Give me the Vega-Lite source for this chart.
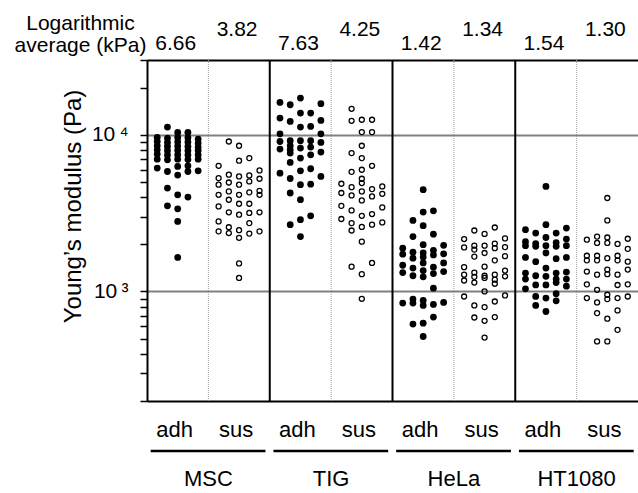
{
  "$schema": "https://vega.github.io/schema/vega-lite/v6.json",
  "width": 491,
  "height": 341,
  "autosize": {"type": "none"},
  "padding": {"left": 147, "top": 60, "right": 0, "bottom": 92},
  "background": "white",
  "config": {
    "font": "Liberation Sans",
    "view": {"stroke": null},
    "text": {"font": "Liberation Sans"}
  },
  "datasets": {
    "adh": [
      {"g":"MSC adh","l":-2,"E":9610},{"g":"MSC adh","l":-2,"E":9060},{"g":"MSC adh","l":-2,"E":8510},{"g":"MSC adh","l":-2,"E":8020},{"g":"MSC adh","l":-2,"E":7530},{"g":"MSC adh","l":-2,"E":6990},{"g":"MSC adh","l":-2,"E":6130},
      {"g":"MSC adh","l":-1,"E":11200},{"g":"MSC adh","l":-1,"E":9530},{"g":"MSC adh","l":-1,"E":8930},{"g":"MSC adh","l":-1,"E":8420},{"g":"MSC adh","l":-1,"E":7910},{"g":"MSC adh","l":-1,"E":7420},{"g":"MSC adh","l":-1,"E":6920},{"g":"MSC adh","l":-1,"E":5830},{"g":"MSC adh","l":-1,"E":4570},{"g":"MSC adh","l":-1,"E":3520},
      {"g":"MSC adh","l":0,"E":10350},{"g":"MSC adh","l":0,"E":9610},{"g":"MSC adh","l":0,"E":9020},{"g":"MSC adh","l":0,"E":8470},{"g":"MSC adh","l":0,"E":7940},{"g":"MSC adh","l":0,"E":7450},{"g":"MSC adh","l":0,"E":6990},{"g":"MSC adh","l":0,"E":6280},{"g":"MSC adh","l":0,"E":5530},{"g":"MSC adh","l":0,"E":4140},{"g":"MSC adh","l":0,"E":3370},{"g":"MSC adh","l":0,"E":2800},{"g":"MSC adh","l":0,"E":1650},
      {"g":"MSC adh","l":1,"E":10350},{"g":"MSC adh","l":1,"E":9570},{"g":"MSC adh","l":1,"E":8980},{"g":"MSC adh","l":1,"E":8420},{"g":"MSC adh","l":1,"E":7910},{"g":"MSC adh","l":1,"E":7420},{"g":"MSC adh","l":1,"E":6950},{"g":"MSC adh","l":1,"E":6340},{"g":"MSC adh","l":1,"E":5830},{"g":"MSC adh","l":1,"E":4000},
      {"g":"MSC adh","l":2,"E":9390},{"g":"MSC adh","l":2,"E":8850},{"g":"MSC adh","l":2,"E":8350},{"g":"MSC adh","l":2,"E":7940},{"g":"MSC adh","l":2,"E":7450},{"g":"MSC adh","l":2,"E":6990},{"g":"MSC adh","l":2,"E":5890},
      {"g":"TIG adh","l":0,"E":17150},{"g":"TIG adh","l":-2,"E":16070},{"g":"TIG adh","l":-1,"E":15540},{"g":"TIG adh","l":2,"E":15780},{"g":"TIG adh","l":0,"E":13760},{"g":"TIG adh","l":1,"E":13760},{"g":"TIG adh","l":-2,"E":12790},{"g":"TIG adh","l":-1,"E":12160},{"g":"TIG adh","l":2,"E":12340},{"g":"TIG adh","l":0,"E":11200},{"g":"TIG adh","l":1,"E":11300},{"g":"TIG adh","l":-2,"E":10140},{"g":"TIG adh","l":2,"E":10140},{"g":"TIG adh","l":-2,"E":9060},{"g":"TIG adh","l":-1,"E":9160},{"g":"TIG adh","l":0,"E":9160},{"g":"TIG adh","l":1,"E":9160},{"g":"TIG adh","l":2,"E":8930},{"g":"TIG adh","l":-2,"E":8110},{"g":"TIG adh","l":-1,"E":8510},{"g":"TIG adh","l":-1,"E":8020},{"g":"TIG adh","l":-1,"E":7640},{"g":"TIG adh","l":0,"E":8220},{"g":"TIG adh","l":1,"E":8340},{"g":"TIG adh","l":2,"E":7750},{"g":"TIG adh","l":1,"E":7450},{"g":"TIG adh","l":0,"E":7100},{"g":"TIG adh","l":-1,"E":6660},{"g":"TIG adh","l":1,"E":6070},{"g":"TIG adh","l":0,"E":5890},{"g":"TIG adh","l":-2,"E":5690},{"g":"TIG adh","l":2,"E":5420},{"g":"TIG adh","l":-1,"E":5260},{"g":"TIG adh","l":0,"E":4800},{"g":"TIG adh","l":1,"E":4840},{"g":"TIG adh","l":-1,"E":4250},{"g":"TIG adh","l":0,"E":3850},{"g":"TIG adh","l":1,"E":3040},{"g":"TIG adh","l":0,"E":2870},{"g":"TIG adh","l":-1,"E":2670},{"g":"TIG adh","l":0,"E":2240},
      {"g":"HeLa adh","l":0,"E":4460},{"g":"HeLa adh","l":0,"E":3210},{"g":"HeLa adh","l":1,"E":3270},{"g":"HeLa adh","l":-1,"E":2840},{"g":"HeLa adh","l":0,"E":2630},{"g":"HeLa adh","l":-1,"E":2240},{"g":"HeLa adh","l":1,"E":2320},{"g":"HeLa adh","l":0,"E":1990},{"g":"HeLa adh","l":-2,"E":1890},{"g":"HeLa adh","l":-2,"E":1730},{"g":"HeLa adh","l":-1,"E":1780},{"g":"HeLa adh","l":-1,"E":1630},{"g":"HeLa adh","l":0,"E":1760},{"g":"HeLa adh","l":0,"E":1660},{"g":"HeLa adh","l":1,"E":1830},{"g":"HeLa adh","l":1,"E":1710},{"g":"HeLa adh","l":2,"E":1970},{"g":"HeLa adh","l":2,"E":1740},{"g":"HeLa adh","l":-2,"E":1470},{"g":"HeLa adh","l":-2,"E":1320},{"g":"HeLa adh","l":-1,"E":1410},{"g":"HeLa adh","l":-1,"E":1260},{"g":"HeLa adh","l":0,"E":1520},{"g":"HeLa adh","l":0,"E":1360},{"g":"HeLa adh","l":0,"E":1240},{"g":"HeLa adh","l":1,"E":1430},{"g":"HeLa adh","l":1,"E":1300},{"g":"HeLa adh","l":2,"E":1520},{"g":"HeLa adh","l":2,"E":1340},{"g":"HeLa adh","l":1,"E":1050},{"g":"HeLa adh","l":-2,"E":843},{"g":"HeLa adh","l":-1,"E":894},{"g":"HeLa adh","l":-1,"E":843},{"g":"HeLa adh","l":0,"E":876},{"g":"HeLa adh","l":0,"E":814},{"g":"HeLa adh","l":1,"E":826},{"g":"HeLa adh","l":2,"E":851},{"g":"HeLa adh","l":1,"E":686},{"g":"HeLa adh","l":-1,"E":619},{"g":"HeLa adh","l":0,"E":628},{"g":"HeLa adh","l":0,"E":516},
      {"g":"HT1080 adh","l":0,"E":4680},{"g":"HT1080 adh","l":0,"E":2670},{"g":"HT1080 adh","l":-2,"E":2480},{"g":"HT1080 adh","l":-1,"E":2360},{"g":"HT1080 adh","l":1,"E":2360},{"g":"HT1080 adh","l":2,"E":2540},{"g":"HT1080 adh","l":0,"E":2210},{"g":"HT1080 adh","l":2,"E":2160},{"g":"HT1080 adh","l":-2,"E":2080},{"g":"HT1080 adh","l":-2,"E":1960},{"g":"HT1080 adh","l":-1,"E":2020},{"g":"HT1080 adh","l":-1,"E":1940},{"g":"HT1080 adh","l":0,"E":1960},{"g":"HT1080 adh","l":1,"E":2050},{"g":"HT1080 adh","l":1,"E":1940},{"g":"HT1080 adh","l":2,"E":1960},{"g":"HT1080 adh","l":0,"E":1760},{"g":"HT1080 adh","l":-2,"E":1650},{"g":"HT1080 adh","l":-1,"E":1550},{"g":"HT1080 adh","l":1,"E":1620},{"g":"HT1080 adh","l":2,"E":1650},{"g":"HT1080 adh","l":0,"E":1410},{"g":"HT1080 adh","l":-2,"E":1310},{"g":"HT1080 adh","l":-2,"E":1200},{"g":"HT1080 adh","l":-2,"E":1040},{"g":"HT1080 adh","l":-1,"E":1260},{"g":"HT1080 adh","l":-1,"E":1100},{"g":"HT1080 adh","l":0,"E":1250},{"g":"HT1080 adh","l":0,"E":1100},{"g":"HT1080 adh","l":1,"E":1310},{"g":"HT1080 adh","l":1,"E":1200},{"g":"HT1080 adh","l":1,"E":1140},{"g":"HT1080 adh","l":2,"E":1330},{"g":"HT1080 adh","l":2,"E":1200},{"g":"HT1080 adh","l":2,"E":1080},{"g":"HT1080 adh","l":-1,"E":929},{"g":"HT1080 adh","l":0,"E":908},{"g":"HT1080 adh","l":1,"E":967},{"g":"HT1080 adh","l":1,"E":872},{"g":"HT1080 adh","l":-1,"E":814},{"g":"HT1080 adh","l":0,"E":745}
    ],
    "sus": [
      {"g":"MSC sus","l":-1,"E":9060},{"g":"MSC sus","l":0,"E":8510},{"g":"MSC sus","l":0,"E":6830},{"g":"MSC sus","l":1,"E":7100},{"g":"MSC sus","l":-2,"E":6340},{"g":"MSC sus","l":2,"E":5920},{"g":"MSC sus","l":-2,"E":5290},{"g":"MSC sus","l":-1,"E":5560},{"g":"MSC sus","l":0,"E":5420},{"g":"MSC sus","l":1,"E":5500},{"g":"MSC sus","l":2,"E":5240},{"g":"MSC sus","l":-2,"E":4800},{"g":"MSC sus","l":-1,"E":4960},{"g":"MSC sus","l":0,"E":4800},{"g":"MSC sus","l":1,"E":5040},{"g":"MSC sus","l":-2,"E":4140},{"g":"MSC sus","l":-1,"E":4350},{"g":"MSC sus","l":0,"E":4140},{"g":"MSC sus","l":1,"E":4290},{"g":"MSC sus","l":2,"E":4390},{"g":"MSC sus","l":2,"E":4140},{"g":"MSC sus","l":-2,"E":3490},{"g":"MSC sus","l":-1,"E":3850},{"g":"MSC sus","l":0,"E":3630},{"g":"MSC sus","l":1,"E":3630},{"g":"MSC sus","l":-1,"E":3200},{"g":"MSC sus","l":0,"E":3090},{"g":"MSC sus","l":1,"E":3170},{"g":"MSC sus","l":2,"E":3200},{"g":"MSC sus","l":-2,"E":2800},{"g":"MSC sus","l":1,"E":2730},{"g":"MSC sus","l":-2,"E":2420},{"g":"MSC sus","l":-1,"E":2570},{"g":"MSC sus","l":-1,"E":2360},{"g":"MSC sus","l":0,"E":2460},{"g":"MSC sus","l":0,"E":2200},{"g":"MSC sus","l":1,"E":2340},{"g":"MSC sus","l":2,"E":2420},{"g":"MSC sus","l":0,"E":1510},{"g":"MSC sus","l":0,"E":1220},
      {"g":"TIG sus","l":-1,"E":14650},{"g":"TIG sus","l":-1,"E":12280},{"g":"TIG sus","l":0,"E":12470},{"g":"TIG sus","l":1,"E":12470},{"g":"TIG sus","l":0,"E":10400},{"g":"TIG sus","l":1,"E":10400},{"g":"TIG sus","l":0,"E":8510},{"g":"TIG sus","l":-1,"E":7640},{"g":"TIG sus","l":0,"E":7100},{"g":"TIG sus","l":1,"E":6340},{"g":"TIG sus","l":-1,"E":5800},{"g":"TIG sus","l":0,"E":5980},{"g":"TIG sus","l":0,"E":5240},{"g":"TIG sus","l":-2,"E":4870},{"g":"TIG sus","l":-1,"E":4630},{"g":"TIG sus","l":0,"E":4920},{"g":"TIG sus","l":1,"E":4500},{"g":"TIG sus","l":2,"E":4680},{"g":"TIG sus","l":-2,"E":4250},{"g":"TIG sus","l":-1,"E":4100},{"g":"TIG sus","l":0,"E":4350},{"g":"TIG sus","l":1,"E":4040},{"g":"TIG sus","l":2,"E":4200},{"g":"TIG sus","l":0,"E":3810},{"g":"TIG sus","l":-2,"E":3520},{"g":"TIG sus","l":-1,"E":3290},{"g":"TIG sus","l":0,"E":3040},{"g":"TIG sus","l":1,"E":3120},{"g":"TIG sus","l":2,"E":3440},{"g":"TIG sus","l":-2,"E":2900},{"g":"TIG sus","l":-1,"E":2730},{"g":"TIG sus","l":-1,"E":2450},{"g":"TIG sus","l":0,"E":2580},{"g":"TIG sus","l":1,"E":2670},{"g":"TIG sus","l":2,"E":2760},{"g":"TIG sus","l":0,"E":2080},{"g":"TIG sus","l":-1,"E":1440},{"g":"TIG sus","l":1,"E":1520},{"g":"TIG sus","l":0,"E":1290},{"g":"TIG sus","l":0,"E":898},
      {"g":"HeLa sus","l":-1,"E":2450},{"g":"HeLa sus","l":1,"E":2560},{"g":"HeLa sus","l":0,"E":2330},{"g":"HeLa sus","l":-2,"E":2160},{"g":"HeLa sus","l":2,"E":2180},{"g":"HeLa sus","l":-2,"E":1910},{"g":"HeLa sus","l":-1,"E":1960},{"g":"HeLa sus","l":-1,"E":1850},{"g":"HeLa sus","l":0,"E":1960},{"g":"HeLa sus","l":1,"E":2020},{"g":"HeLa sus","l":1,"E":1890},{"g":"HeLa sus","l":2,"E":1920},{"g":"HeLa sus","l":-1,"E":1670},{"g":"HeLa sus","l":0,"E":1760},{"g":"HeLa sus","l":1,"E":1580},{"g":"HeLa sus","l":2,"E":1680},{"g":"HeLa sus","l":-2,"E":1430},{"g":"HeLa sus","l":0,"E":1440},{"g":"HeLa sus","l":2,"E":1360},{"g":"HeLa sus","l":-2,"E":1280},{"g":"HeLa sus","l":-2,"E":1175},{"g":"HeLa sus","l":-1,"E":1320},{"g":"HeLa sus","l":-1,"E":1240},{"g":"HeLa sus","l":-1,"E":1140},{"g":"HeLa sus","l":0,"E":1260},{"g":"HeLa sus","l":0,"E":1220},{"g":"HeLa sus","l":1,"E":1280},{"g":"HeLa sus","l":1,"E":1190},{"g":"HeLa sus","l":1,"E":1120},{"g":"HeLa sus","l":2,"E":1250},{"g":"HeLa sus","l":-2,"E":929},{"g":"HeLa sus","l":0,"E":1000},{"g":"HeLa sus","l":1,"E":863},{"g":"HeLa sus","l":2,"E":943},{"g":"HeLa sus","l":-1,"E":814},{"g":"HeLa sus","l":0,"E":795},{"g":"HeLa sus","l":-1,"E":682},{"g":"HeLa sus","l":0,"E":650},{"g":"HeLa sus","l":1,"E":686},{"g":"HeLa sus","l":0,"E":508},
      {"g":"HT1080 sus","l":0,"E":3950},{"g":"HT1080 sus","l":0,"E":2840},{"g":"HT1080 sus","l":-2,"E":2140},{"g":"HT1080 sus","l":-1,"E":2240},{"g":"HT1080 sus","l":-1,"E":2040},{"g":"HT1080 sus","l":0,"E":2210},{"g":"HT1080 sus","l":0,"E":2040},{"g":"HT1080 sus","l":1,"E":2010},{"g":"HT1080 sus","l":2,"E":2170},{"g":"HT1080 sus","l":2,"E":1870},{"g":"HT1080 sus","l":-2,"E":1690},{"g":"HT1080 sus","l":-2,"E":1580},{"g":"HT1080 sus","l":-1,"E":1690},{"g":"HT1080 sus","l":-1,"E":1580},{"g":"HT1080 sus","l":0,"E":1630},{"g":"HT1080 sus","l":1,"E":1690},{"g":"HT1080 sus","l":1,"E":1580},{"g":"HT1080 sus","l":2,"E":1550},{"g":"HT1080 sus","l":-2,"E":1340},{"g":"HT1080 sus","l":-1,"E":1280},{"g":"HT1080 sus","l":0,"E":1380},{"g":"HT1080 sus","l":0,"E":1290},{"g":"HT1080 sus","l":1,"E":1280},{"g":"HT1080 sus","l":2,"E":1380},{"g":"HT1080 sus","l":-2,"E":1110},{"g":"HT1080 sus","l":-1,"E":1025},{"g":"HT1080 sus","l":1,"E":1100},{"g":"HT1080 sus","l":2,"E":1110},{"g":"HT1080 sus","l":-2,"E":908},{"g":"HT1080 sus","l":-1,"E":851},{"g":"HT1080 sus","l":0,"E":953},{"g":"HT1080 sus","l":0,"E":894},{"g":"HT1080 sus","l":1,"E":908},{"g":"HT1080 sus","l":2,"E":929},{"g":"HT1080 sus","l":-1,"E":728},{"g":"HT1080 sus","l":0,"E":670},{"g":"HT1080 sus","l":1,"E":757},{"g":"HT1080 sus","l":1,"E":569},{"g":"HT1080 sus","l":-1,"E":480},{"g":"HT1080 sus","l":0,"E":480}
    ],
    "avg": [
      {"g":"MSC adh","s":"adh","v":"6.66"},{"g":"MSC sus","s":"sus","v":"3.82"},
      {"g":"TIG adh","s":"adh","v":"7.63"},{"g":"TIG sus","s":"sus","v":"4.25"},
      {"g":"HeLa adh","s":"adh","v":"1.42"},{"g":"HeLa sus","s":"sus","v":"1.34"},
      {"g":"HT1080 adh","s":"adh","v":"1.54"},{"g":"HT1080 sus","s":"sus","v":"1.30"}
    ],
    "seps": [{"g":"TIG adh"},{"g":"HeLa adh"},{"g":"HT1080 adh"}],
    "dots": [{"g":"MSC sus"},{"g":"TIG sus"},{"g":"HeLa sus"},{"g":"HT1080 sus"}],
    "under": [
      {"a":"MSC adh","b":"MSC sus"},{"a":"TIG adh","b":"TIG sus"},
      {"a":"HeLa adh","b":"HeLa sus"},{"a":"HT1080 adh","b":"HT1080 sus"}
    ]
  },
  "resolve": {"axis": {"x": "independent", "y": "independent"}},
  "layer": [
    {
      "data": {"name": "dots"},
      "mark": {"type": "rule", "stroke": "#a0a0a0", "strokeWidth": 1, "strokeDash": [1, 1]},
      "encoding": {
        "x": {"field": "g", "type": "nominal", "bandPosition": 0, "axis": null,
              "scale": {"domain": ["MSC adh","MSC sus","TIG adh","TIG sus","HeLa adh","HeLa sus","HT1080 adh","HT1080 sus"], "paddingInner": 0, "paddingOuter": 0}}
      }
    },
    {
      "data": {"name": "seps"},
      "mark": {"type": "rule", "stroke": "#000", "strokeWidth": 2},
      "encoding": {
        "x": {"field": "g", "type": "nominal", "bandPosition": 0,
              "scale": {"domain": ["MSC adh","MSC sus","TIG adh","TIG sus","HeLa adh","HeLa sus","HT1080 adh","HT1080 sus"], "paddingInner": 0, "paddingOuter": 0},
              "axis": {"orient": "top", "domain": true, "domainColor": "#000", "domainWidth": 2, "ticks": false, "labels": false, "grid": false,
                       "title": ["Logarithmic", "average (kPa)"], "titleFontSize": 21, "titleFontWeight": "normal", "titleColor": "#000",
                       "titleX": -67, "titleY": -30.7, "titleAlign": "center", "titleBaseline": "alphabetic", "titleAngle": 0, "titleLineHeight": 22.4}}
      }
    },
    {
      "data": {"name": "under"},
      "mark": {"type": "rule", "stroke": "#000", "strokeWidth": 2.5},
      "encoding": {
        "x": {"field": "a", "type": "nominal", "bandPosition": 0.06, "axis": null,
              "scale": {"domain": ["MSC adh","MSC sus","TIG adh","TIG sus","HeLa adh","HeLa sus","HT1080 adh","HT1080 sus"], "paddingInner": 0, "paddingOuter": 0}},
        "x2": {"field": "b", "bandPosition": 0.93},
        "y": {"datum": 96, "type": "quantitative", "axis": null, "scale": {"type": "log", "domain": [200, 30000], "nice": false}}
      }
    },
    {
      "data": {"name": "avg"},
      "transform": [{"filter": {"field": "s", "equal": "adh"}}],
      "mark": {"type": "text", "fontSize": 21, "align": "center", "baseline": "alphabetic", "dx": -2, "color": "#000"},
      "encoding": {
        "x": {"field": "g", "type": "nominal", "axis": null,
              "scale": {"domain": ["MSC adh","MSC sus","TIG adh","TIG sus","HeLa adh","HeLa sus","HT1080 adh","HT1080 sus"], "paddingInner": 0, "paddingOuter": 0}},
        "y": {"datum": 34500, "type": "quantitative", "axis": null, "scale": {"type": "log", "domain": [200, 30000], "nice": false}},
        "text": {"field": "v"}
      }
    },
    {
      "data": {"name": "avg"},
      "transform": [{"filter": {"field": "s", "equal": "sus"}}],
      "mark": {"type": "text", "fontSize": 21, "align": "center", "baseline": "alphabetic", "dx": -2, "color": "#000"},
      "encoding": {
        "x": {"field": "g", "type": "nominal", "axis": null,
              "scale": {"domain": ["MSC adh","MSC sus","TIG adh","TIG sus","HeLa adh","HeLa sus","HT1080 adh","HT1080 sus"], "paddingInner": 0, "paddingOuter": 0}},
        "y": {"datum": 42500, "type": "quantitative", "axis": null, "scale": {"type": "log", "domain": [200, 30000], "nice": false}},
        "text": {"field": "v"}
      }
    },
    {
      "data": {"name": "adh"},
      "mark": {"type": "circle", "size": 46, "opacity": 1, "color": "#000"},
      "encoding": {
        "x": {"field": "g", "type": "nominal",
              "scale": {"domain": ["MSC adh","MSC sus","TIG adh","TIG sus","HeLa adh","HeLa sus","HT1080 adh","HT1080 sus"], "paddingInner": 0, "paddingOuter": 0},
              "axis": {"orient": "bottom", "labelExpr": "split(datum.value, ' ')[1]", "labelFontSize": 22, "labelColor": "#000", "labelPadding": 35,
                       "labelBaseline": "alphabetic", "labelAngle": 0, "labelOffset": -3, "labelOverlap": false, "ticks": false, "tickSize": 0,
                       "domain": true, "domainColor": "#000", "domainWidth": 2, "grid": false, "title": null}},
        "xOffset": {"field": "l", "type": "ordinal", "scale": {"type": "point", "domain": [-2, -1, 0, 1, 2], "padding": 1.16}},
        "y": {"field": "E", "type": "quantitative",
              "scale": {"type": "log", "domain": [200, 30000], "nice": false},
              "axis": {"orient": "left",
                       "values": [200,300,400,500,600,700,800,900,1000,2000,3000,4000,5000,6000,7000,8000,9000,10000,20000,30000],
                       "labelExpr": "datum.value == 10000 ? '10\u2009⁴' : (datum.value == 1000 ? '10\u2009³' : '')",
                       "labelFontSize": 21, "labelColor": "#000", "labelPadding": 12, "labelBaseline": "middle", "labelOverlap": false, "labelFlush": false, "labelBound": false,
                       "tickSize": 7, "tickColor": "#000", "tickWidth": 1.5,
                       "domain": true, "domainColor": "#000", "domainWidth": 2,
                       "grid": true, "gridColor": "#808080", "gridWidth": 2,
                       "gridOpacity": {"condition": {"test": "datum.value == 1000 || datum.value == 10000", "value": 1}, "value": 0},
                       "title": "Young’s modulus (Pa)", "titleFontSize": 24, "titleFontWeight": "normal", "titleColor": "#000",
                       "titleX": -67, "titleY": 146, "titleAngle": -90, "titleAlign": "center", "titleBaseline": "alphabetic"}}
      }
    },
    {
      "data": {"name": "sus"},
      "mark": {"type": "circle", "filled": false, "size": 25, "strokeWidth": 1.3, "opacity": 1, "color": "#000"},
      "encoding": {
        "x": {"field": "g", "type": "nominal",
              "scale": {"domain": ["MSC adh","MSC sus","TIG adh","TIG sus","HeLa adh","HeLa sus","HT1080 adh","HT1080 sus"], "paddingInner": 0, "paddingOuter": 0},
              "axis": {"orient": "bottom", "labelExpr": "indexof(datum.value, 'sus') > 0 ? split(datum.value, ' ')[0] : ''", "labelOffset": -30.7,
                       "labelFontSize": 22, "labelColor": "#000", "labelPadding": 84, "labelBaseline": "alphabetic", "labelAngle": 0, "labelOverlap": false,
                       "ticks": false, "tickSize": 0, "domain": false, "grid": false, "title": null}},
        "xOffset": {"field": "l", "type": "ordinal", "scale": {"type": "point", "domain": [-2, -1, 0, 1, 2], "padding": 1.16}},
        "y": {"field": "E", "type": "quantitative", "axis": null, "scale": {"type": "log", "domain": [200, 30000], "nice": false}}
      }
    }
  ]
}
